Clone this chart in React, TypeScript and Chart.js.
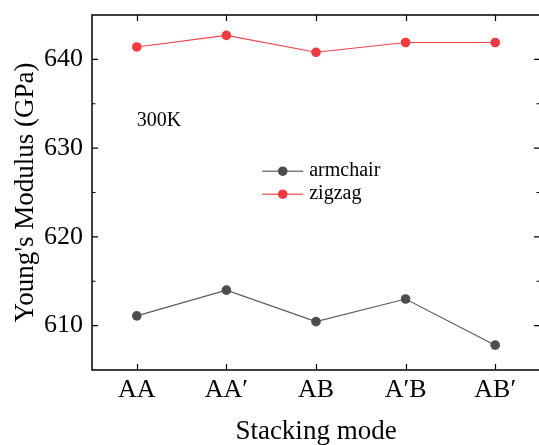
import React, { useEffect, useRef } from "react";
import { Chart, registerables } from "chart.js";

Chart.register(...registerables);

const categories = ["AA", "AA′", "AB", "A′B", "AB′"];
const armchair = [611.1, 614.0, 610.45, 613.0, 607.8];
const zigzag = [641.4, 642.7, 640.8, 641.9, 641.9];
const seriesLabels = ["armchair", "zigzag"];
const annotationText = "300K";
const xTitle = "Stacking mode";
const yTitle = "Young's Modulus (GPa)";

const FONT = "'Liberation Serif', 'Times New Roman', serif";

const framePlugin = {
  id: "frame",
  afterDatasetsDraw(chart: any) {
    const { ctx, chartArea } = chart;
    const { left, right, top, bottom } = chartArea;
    const xs = chart.scales.x;
    const ys = chart.scales.y;
    ctx.save();
    ctx.strokeStyle = "#000";
    ctx.lineWidth = 1.5;
    ctx.strokeRect(left, top, right - left, bottom - top);
    ctx.lineWidth = 1.2;
    ctx.beginPath();
    xs.ticks.forEach((_t: any, i: number) => {
      const px = Math.round(xs.getPixelForTick(i)) + 0.5;
      ctx.moveTo(px, bottom);
      ctx.lineTo(px, bottom - 6);
      ctx.moveTo(px, top);
      ctx.lineTo(px, top + 6);
    });
    ys.ticks.forEach((t: any, i: number) => {
      if (t.value <= ys.min || t.value >= ys.max) return;
      const py = ys.getPixelForTick(i);
      const len = t.value % 10 === 0 ? 6 : 3.5;
      ctx.moveTo(left, py);
      ctx.lineTo(left + len, py);
      ctx.moveTo(right, py);
      ctx.lineTo(right - len, py);
    });
    ctx.stroke();

    // annotation
    ctx.fillStyle = "#000";
    ctx.font = `20px ${FONT}`;
    ctx.textBaseline = "alphabetic";
    ctx.textAlign = "left";
    ctx.fillText(annotationText, xs.getPixelForTick(0), top + (bottom - top) * 0.312);

    // legend
    const lx0 = left + (right - left) * 0.38;
    const lineLen = 41;
    const ly0 = top + (bottom - top) * 0.44;
    const gap = 23;
    chart.data.datasets.forEach((ds: any, i: number) => {
      const y = ly0 + i * gap;
      ctx.strokeStyle = ds.borderColor;
      ctx.lineWidth = 1.5;
      ctx.globalAlpha = 0.8;
      ctx.beginPath();
      ctx.moveTo(lx0, y);
      ctx.lineTo(lx0 + lineLen, y);
      ctx.stroke();
      ctx.globalAlpha = 1;
      ctx.fillStyle = ds.pointBackgroundColor;
      ctx.beginPath();
      ctx.arc(lx0 + lineLen / 2, y, 4.8, 0, Math.PI * 2);
      ctx.fill();
      ctx.fillStyle = "#000";
      ctx.font = `20px ${FONT}`;
      ctx.textBaseline = "middle";
      ctx.fillText(ds.label, lx0 + lineLen + 6, y);
    });
    ctx.restore();
  },
};

export default function App() {
  const ref = useRef<HTMLCanvasElement>(null);
  useEffect(() => {
    if (!ref.current) return;
    const chart = new Chart(ref.current, {
      type: "line",
      data: {
        labels: categories,
        datasets: [
          {
            label: seriesLabels[0],
            data: armchair,
            borderColor: "#5a5a5a",
            borderWidth: 1.1,
            pointBackgroundColor: "#4d4d4d",
            pointBorderColor: "#4d4d4d",
            pointRadius: 4.8,
            pointBorderWidth: 0,
            tension: 0,
          },
          {
            label: seriesLabels[1],
            data: zigzag,
            borderColor: "#f0444a",
            borderWidth: 1.1,
            pointBackgroundColor: "#ef3a40",
            pointBorderColor: "#ef3a40",
            pointRadius: 4.8,
            pointBorderWidth: 0,
            tension: 0,
          },
        ],
      },
      options: {
        responsive: false,
        animation: false,
        layout: { padding: { left: 0, top: 15, right: 5, bottom: 0 } },
        plugins: { legend: { display: false }, tooltip: { enabled: false } },
        scales: {
          x: {
            type: "category",
            offset: true,
            grid: { display: false, drawTicks: false },
            border: { display: false },
            ticks: {
              color: "#000",
              padding: 5,
              font: { family: FONT, size: 26 },
              maxRotation: 0,
            },
            title: {
              display: true,
              text: xTitle,
              color: "#000",
              font: { family: FONT, size: 27, lineHeight: 1 },
              padding: { top: 0, bottom: 0 },
            },
            afterFit: (s: any) => {
              s.height = 75;
              s.paddingLeft = 0;
              s.paddingRight = 0;
            },
          },
          y: {
            type: "linear",
            min: 605,
            max: 645,
            grid: { display: false, drawTicks: false },
            border: { display: false },
            ticks: {
              stepSize: 5,
              color: "#000",
              padding: 9,
              font: { family: FONT, size: 26 },
              callback: (v: any) => (Number(v) % 10 === 0 ? String(v) : ""),
            },
            title: {
              display: true,
              text: yTitle,
              color: "#000",
              font: { family: FONT, size: 27 },
              padding: { top: 10, bottom: 0 },
            },
            afterFit: (s: any) => {
              s.width = 92;
              s.paddingTop = 0;
              s.paddingBottom = 0;
            },
          },
        },
      },
      plugins: [framePlugin],
    });
    return () => chart.destroy();
  }, []);
  return (
    <div
      style={{
        position: "absolute",
        left: 0,
        top: 0,
        width: 539,
        height: 445,
        overflow: "hidden",
        background: "#fff",
      }}
    >
      <canvas ref={ref} width={545} height={445} style={{ display: "block" }} />
    </div>
  );
}
